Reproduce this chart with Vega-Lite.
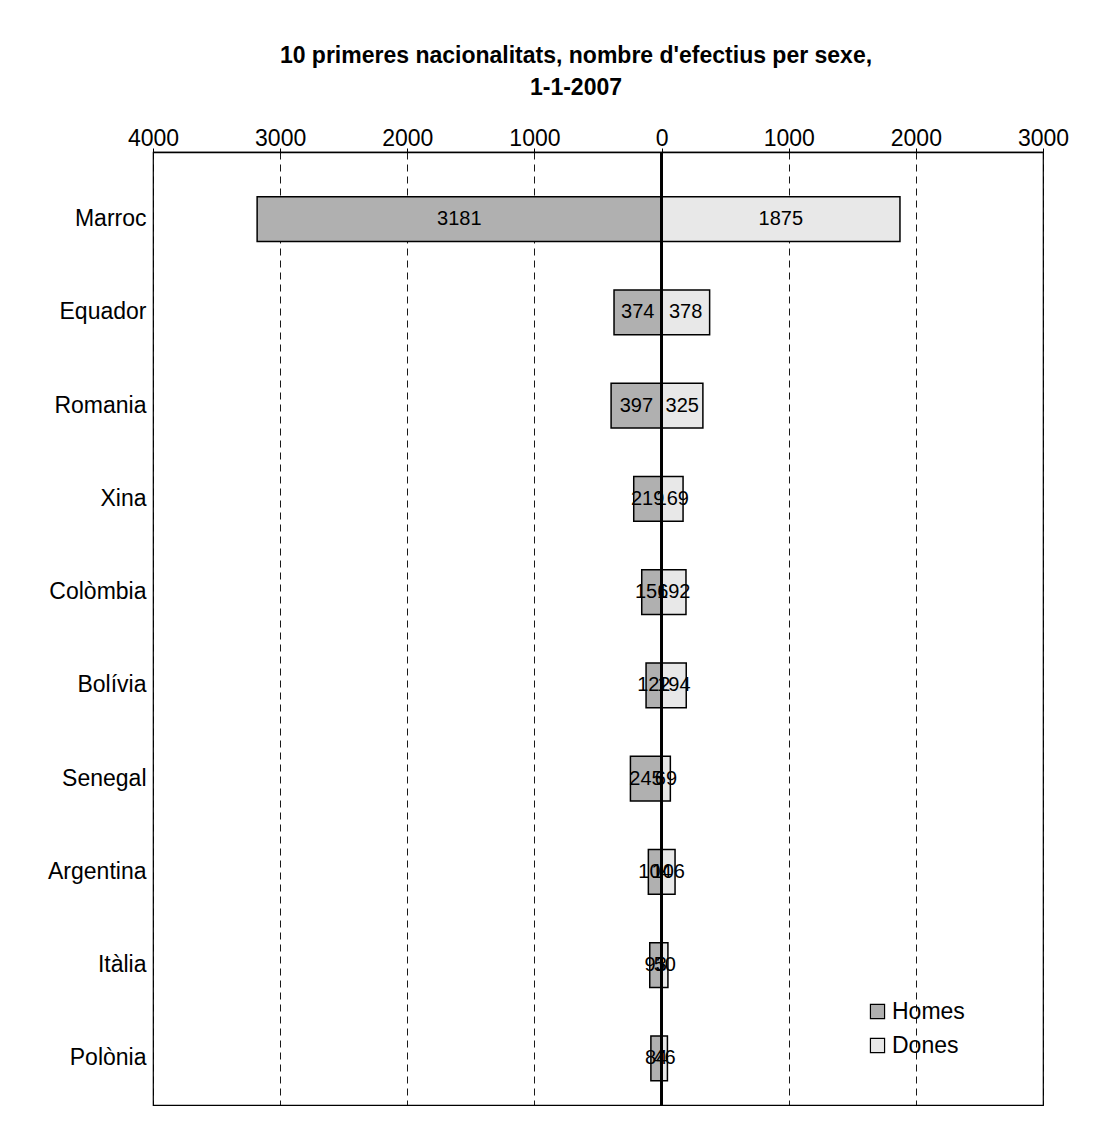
{
  "$schema": "https://vega.github.io/schema/vega-lite/v6.json",
  "width": 890,
  "height": 953,
  "autosize": {"type": "none"},
  "padding": {"left": 153, "top": 152, "right": 73, "bottom": 21},
  "background": "white",
  "config": {
    "font": "Liberation Sans",
    "view": {"stroke": "black", "strokeWidth": 1.2}
  },
  "title": {
    "text": ["10 primeres nacionalitats, nombre d'efectius per sexe,", "1-1-2007"],
    "fontSize": 23,
    "fontWeight": "bold",
    "font": "Liberation Sans",
    "color": "black",
    "anchor": "middle",
    "dx": -22,
    "offset": 27,
    "lineHeight": 32
  },
  "data": {
    "values": [
      {"pais": "Marroc", "sexe": "Homes", "efectius": 3181},
      {"pais": "Marroc", "sexe": "Dones", "efectius": 1875},
      {"pais": "Equador", "sexe": "Homes", "efectius": 374},
      {"pais": "Equador", "sexe": "Dones", "efectius": 378},
      {"pais": "Romania", "sexe": "Homes", "efectius": 397},
      {"pais": "Romania", "sexe": "Dones", "efectius": 325},
      {"pais": "Xina", "sexe": "Homes", "efectius": 219},
      {"pais": "Xina", "sexe": "Dones", "efectius": 169},
      {"pais": "Colòmbia", "sexe": "Homes", "efectius": 156},
      {"pais": "Colòmbia", "sexe": "Dones", "efectius": 192},
      {"pais": "Bolívia", "sexe": "Homes", "efectius": 122},
      {"pais": "Bolívia", "sexe": "Dones", "efectius": 194},
      {"pais": "Senegal", "sexe": "Homes", "efectius": 245},
      {"pais": "Senegal", "sexe": "Dones", "efectius": 69},
      {"pais": "Argentina", "sexe": "Homes", "efectius": 104},
      {"pais": "Argentina", "sexe": "Dones", "efectius": 106},
      {"pais": "Itàlia", "sexe": "Homes", "efectius": 93},
      {"pais": "Itàlia", "sexe": "Dones", "efectius": 50},
      {"pais": "Polònia", "sexe": "Homes", "efectius": 84},
      {"pais": "Polònia", "sexe": "Dones", "efectius": 46}
    ]
  },
  "transform": [
    {"calculate": "datum.sexe === 'Homes' ? -datum.efectius : datum.efectius", "as": "signat"},
    {"calculate": "datum.signat / 2", "as": "mig"}
  ],
  "encoding": {
    "y": {
      "field": "pais",
      "type": "nominal",
      "sort": null,
      "scale": {"paddingInner": 0, "paddingOuter": 0.11, "align": 1},
      "axis": {
        "title": null,
        "ticks": false,
        "domain": false,
        "labelFontSize": 23,
        "labelColor": "black",
        "labelPadding": 7,
        "labelFont": "Liberation Sans"
      }
    }
  },
  "layer": [
    {
      "mark": {"type": "bar", "stroke": "black", "strokeWidth": 1.5, "height": {"band": 0.48}},
      "encoding": {
        "x": {
          "field": "signat",
          "type": "quantitative",
          "scale": {"domain": [-4000, 3000], "nice": false, "zero": false},
          "axis": {
            "orient": "top",
            "title": null,
            "values": [-4000, -3000, -2000, -1000, 0, 1000, 2000, 3000],
            "labelExpr": "abs(datum.value)",
            "labelFontSize": 23,
            "labelColor": "black",
            "labelFont": "Liberation Sans",
            "labelPadding": -2,
            "labelFlush": false,
            "domainColor": "black",
            "domainWidth": 1.5,
            "tickColor": "black",
            "tickSize": 4,
            "grid": true,
            "gridColor": "black",
            "gridDash": [7, 5],
            "gridWidth": 1,
            "gridOpacity": 0.9
          }
        },
        "x2": {"datum": 0},
        "fill": {
          "field": "sexe",
          "type": "nominal",
          "scale": {"domain": ["Homes", "Dones"], "range": ["#b0b0b0", "#e8e8e8"]},
          "legend": {
            "title": null,
            "orient": "none",
            "legendX": 713,
            "legendY": 848,
            "symbolType": "square",
            "symbolSize": 200,
            "symbolStrokeColor": "black",
            "symbolStrokeWidth": 1.2,
            "labelFontSize": 23,
            "labelColor": "black",
            "labelFont": "Liberation Sans",
            "rowPadding": 10,
            "labelOffset": 3
          }
        }
      }
    },
    {
      "mark": {"type": "rule", "color": "black", "strokeWidth": 1.5},
      "encoding": {"x": {"datum": 0}, "y": null}
    },
    {
      "mark": {"type": "text", "fontSize": 20, "color": "black", "font": "Liberation Sans", "baseline": "middle", "align": "center"},
      "encoding": {
        "x": {"field": "mig", "type": "quantitative"},
        "text": {"field": "efectius", "type": "quantitative"}
      }
    }
  ]
}
